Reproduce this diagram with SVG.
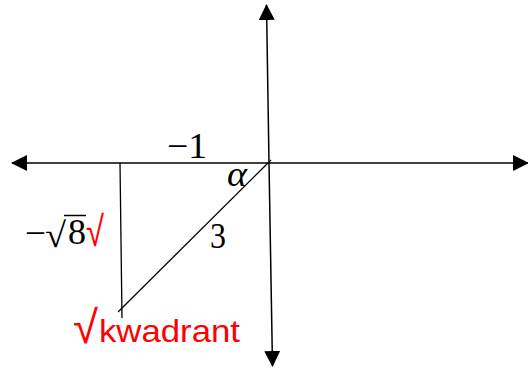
<svg xmlns="http://www.w3.org/2000/svg" width="528" height="369" viewBox="0 0 528 369">
<style>
.ax{stroke:#000;stroke-width:1.5;fill:none}
.ln{stroke:#000;stroke-width:1.3;fill:none}
.m{font-family:"Liberation Serif","DejaVu Serif",serif;font-size:35px;fill:#000}
.r{font-family:"Liberation Sans","DejaVu Sans",sans-serif;fill:#ff0000}
</style>
<defs>
<marker id="ah" viewBox="0 0 16 16" refX="15" refY="8" markerWidth="16" markerHeight="16" markerUnits="userSpaceOnUse" orient="auto">
<path d="M0,0 L16,8 L0,16 Z" fill="#000"/>
</marker>
</defs>
<rect width="528" height="369" fill="#fff"/>
<g id="connectors">
<line class="ax" x1="269" y1="163" x2="12" y2="163" marker-end="url(#ah)"/>
<line class="ax" x1="269" y1="163" x2="528" y2="163" marker-end="url(#ah)"/>
<line class="ax" x1="269" y1="163" x2="266.5" y2="5" marker-end="url(#ah)"/>
<line class="ax" x1="269" y1="163" x2="272.5" y2="366" marker-end="url(#ah)"/>
<line class="ln" x1="120" y1="163" x2="122" y2="318"/>
<line class="ln" x1="118" y1="312" x2="271" y2="160"/>
</g>
<g id="label-minus1"><text class="m" x="167" y="158" textLength="40" lengthAdjust="spacingAndGlyphs">−1</text></g>
<g id="label-alpha"><text class="m" x="227" y="186" font-style="italic" textLength="20" lengthAdjust="spacingAndGlyphs">α</text></g>
<g id="label-3"><text class="m" x="210" y="248" textLength="16" lengthAdjust="spacingAndGlyphs">3</text></g>
<g id="label-sqrt8">
<text class="m" x="25" y="245" textLength="21" lengthAdjust="spacingAndGlyphs">−</text>
<text class="m" x="45" y="247" font-size="40" textLength="21" lengthAdjust="spacingAndGlyphs">√</text>
<line x1="64" y1="215.5" x2="86" y2="215.5" stroke="#000" stroke-width="1.5"/>
<text class="m" x="68" y="244" textLength="18" lengthAdjust="spacingAndGlyphs">8</text>
<text class="r" x="86" y="246" font-size="42" textLength="18" lengthAdjust="spacingAndGlyphs">√</text>
</g>
<g id="label-kwadrant">
<text class="r" x="73" y="343" font-size="46" textLength="25" lengthAdjust="spacingAndGlyphs">√</text>
<text class="r" x="99" y="342" font-size="32" textLength="141" lengthAdjust="spacingAndGlyphs">kwadrant</text>
</g>
</svg>
